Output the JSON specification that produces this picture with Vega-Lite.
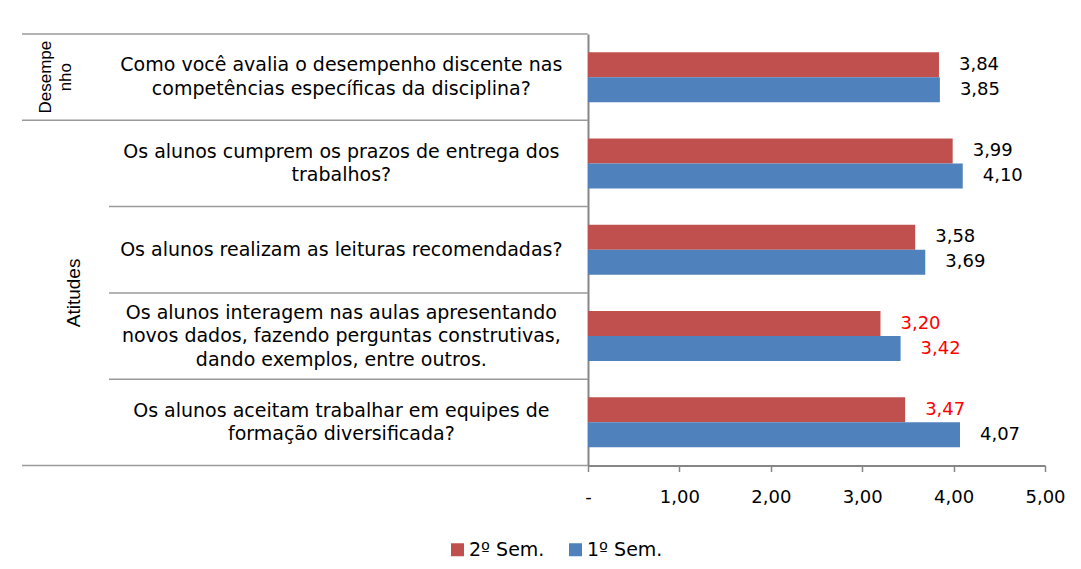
{
  "$schema": "https://vega.github.io/schema/vega-lite/v6.json",
  "padding": {"left": 21, "top": 33, "right": 0, "bottom": 0},
  "bounds": "flush",
  "spacing": 0,
  "config": {
    "view": {"stroke": null},
    "font": "DejaVu Sans",
    "locale": {"number": {"decimal": ",", "thousands": ".", "grouping": [3], "currency": ["R$ ", ""]}}
  },
  "datasets": {
    "notas": [
      {"grupo": "Desempenho", "pergunta": "Como você avalia o desempenho discente nas\ncompetências específicas da disciplina?", "semestre": "2º Sem.", "valor": 3.84},
      {"grupo": "Desempenho", "pergunta": "Como você avalia o desempenho discente nas\ncompetências específicas da disciplina?", "semestre": "1º Sem.", "valor": 3.85},
      {"grupo": "Atitudes", "pergunta": "Os alunos cumprem os prazos de entrega dos\ntrabalhos?", "semestre": "2º Sem.", "valor": 3.99},
      {"grupo": "Atitudes", "pergunta": "Os alunos cumprem os prazos de entrega dos\ntrabalhos?", "semestre": "1º Sem.", "valor": 4.10},
      {"grupo": "Atitudes", "pergunta": "Os alunos realizam as leituras recomendadas?", "semestre": "2º Sem.", "valor": 3.58},
      {"grupo": "Atitudes", "pergunta": "Os alunos realizam as leituras recomendadas?", "semestre": "1º Sem.", "valor": 3.69},
      {"grupo": "Atitudes", "pergunta": "Os alunos interagem nas aulas apresentando\nnovos dados, fazendo perguntas construtivas,\ndando exemplos, entre outros.", "semestre": "2º Sem.", "valor": 3.20},
      {"grupo": "Atitudes", "pergunta": "Os alunos interagem nas aulas apresentando\nnovos dados, fazendo perguntas construtivas,\ndando exemplos, entre outros.", "semestre": "1º Sem.", "valor": 3.42},
      {"grupo": "Atitudes", "pergunta": "Os alunos aceitam trabalhar em equipes de\nformação diversificada?", "semestre": "2º Sem.", "valor": 3.47},
      {"grupo": "Atitudes", "pergunta": "Os alunos aceitam trabalhar em equipes de\nformação diversificada?", "semestre": "1º Sem.", "valor": 4.07}
    ],
    "grupos": [
      {"grupo": "Desempenho", "rotulo": "Desempe\nnho", "pergunta": "Como você avalia o desempenho discente nas\ncompetências específicas da disciplina?"},
      {"grupo": "Atitudes", "rotulo": "Atitudes", "pergunta": "Os alunos interagem nas aulas apresentando\nnovos dados, fazendo perguntas construtivas,\ndando exemplos, entre outros."}
    ]
  },
  "resolve": {"scale": {"y": "shared"}},
  "hconcat": [
    {
      "width": 87,
      "height": 431.5,
      "layer": [
        {
          "data": {"name": "notas"},
          "transform": [
            {"filter": "datum.semestre == '1º Sem.'"},
            {"window": [{"op": "row_number", "as": "ordem"}], "groupby": ["grupo"]},
            {"filter": "datum.ordem == 1"}
          ],
          "mark": {"type": "rule", "color": "#9A9A9A", "strokeWidth": 1.5},
          "encoding": {
            "y": {"field": "pergunta", "type": "nominal", "bandPosition": 0, "axis": null,
              "sort": ["Como você avalia o desempenho discente nas\ncompetências específicas da disciplina?", "Os alunos cumprem os prazos de entrega dos\ntrabalhos?", "Os alunos realizam as leituras recomendadas?", "Os alunos interagem nas aulas apresentando\nnovos dados, fazendo perguntas construtivas,\ndando exemplos, entre outros.", "Os alunos aceitam trabalhar em equipes de\nformação diversificada?"],
              "scale": {"paddingInner": 0, "paddingOuter": 0}}
          }
        },
        {
          "data": {"name": "notas"},
          "transform": [
            {"filter": "datum.semestre == '1º Sem.' && indexof(datum.pergunta, 'aceitam') >= 0"}
          ],
          "mark": {"type": "rule", "color": "#9A9A9A", "strokeWidth": 1.5},
          "encoding": {
            "y": {"field": "pergunta", "type": "nominal", "bandPosition": 1, "axis": null,
              "sort": ["Como você avalia o desempenho discente nas\ncompetências específicas da disciplina?", "Os alunos cumprem os prazos de entrega dos\ntrabalhos?", "Os alunos realizam as leituras recomendadas?", "Os alunos interagem nas aulas apresentando\nnovos dados, fazendo perguntas construtivas,\ndando exemplos, entre outros.", "Os alunos aceitam trabalhar em equipes de\nformação diversificada?"]}
          }
        },
        {
          "data": {"name": "grupos"},
          "transform": [{"filter": "datum.grupo == 'Desempenho'"}],
          "mark": {"type": "text", "angle": 270, "align": "center", "baseline": "middle", "dy": -20, "lineBreak": "\n", "lineHeight": 20, "fontSize": 17, "font": "Liberation Sans", "color": "#000000"},
          "encoding": {
            "y": {"field": "pergunta", "type": "nominal", "bandPosition": 0.5, "axis": null,
              "sort": ["Como você avalia o desempenho discente nas\ncompetências específicas da disciplina?", "Os alunos cumprem os prazos de entrega dos\ntrabalhos?", "Os alunos realizam as leituras recomendadas?", "Os alunos interagem nas aulas apresentando\nnovos dados, fazendo perguntas construtivas,\ndando exemplos, entre outros.", "Os alunos aceitam trabalhar em equipes de\nformação diversificada?"]},
            "text": {"field": "rotulo", "type": "nominal"}
          }
        },
        {
          "data": {"name": "grupos"},
          "transform": [{"filter": "datum.grupo == 'Atitudes'"}],
          "mark": {"type": "text", "angle": 270, "align": "center", "baseline": "middle", "dy": 8.5, "fontSize": 19, "font": "Liberation Sans", "color": "#000000"},
          "encoding": {
            "y": {"field": "pergunta", "type": "nominal", "bandPosition": 0, "axis": null,
              "sort": ["Como você avalia o desempenho discente nas\ncompetências específicas da disciplina?", "Os alunos cumprem os prazos de entrega dos\ntrabalhos?", "Os alunos realizam as leituras recomendadas?", "Os alunos interagem nas aulas apresentando\nnovos dados, fazendo perguntas construtivas,\ndando exemplos, entre outros.", "Os alunos aceitam trabalhar em equipes de\nformação diversificada?"]},
            "text": {"field": "rotulo", "type": "nominal"}
          }
        }
      ]
    },
    {
      "width": 478.7,
      "height": 431.5,
      "data": {"name": "notas"},
      "transform": [{"filter": "datum.semestre == '1º Sem.'"}],
      "layer": [
        {
          "mark": {"type": "rule", "color": "#9A9A9A", "strokeWidth": 1.5},
          "encoding": {
            "y": {"field": "pergunta", "type": "nominal", "bandPosition": 0, "axis": null,
              "sort": ["Como você avalia o desempenho discente nas\ncompetências específicas da disciplina?", "Os alunos cumprem os prazos de entrega dos\ntrabalhos?", "Os alunos realizam as leituras recomendadas?", "Os alunos interagem nas aulas apresentando\nnovos dados, fazendo perguntas construtivas,\ndando exemplos, entre outros.", "Os alunos aceitam trabalhar em equipes de\nformação diversificada?"]}
          }
        },
        {
          "transform": [{"filter": "indexof(datum.pergunta, 'aceitam') >= 0"}],
          "mark": {"type": "rule", "color": "#9A9A9A", "strokeWidth": 1.5},
          "encoding": {
            "y": {"field": "pergunta", "type": "nominal", "bandPosition": 1, "axis": null,
              "sort": ["Como você avalia o desempenho discente nas\ncompetências específicas da disciplina?", "Os alunos cumprem os prazos de entrega dos\ntrabalhos?", "Os alunos realizam as leituras recomendadas?", "Os alunos interagem nas aulas apresentando\nnovos dados, fazendo perguntas construtivas,\ndando exemplos, entre outros.", "Os alunos aceitam trabalhar em equipes de\nformação diversificada?"]}
          }
        },
        {
          "transform": [{"filter": "length(split(datum.pergunta, '\\n')) == 1"}],
          "mark": {"type": "text", "align": "center", "baseline": "middle", "dx": -7, "lineBreak": "\n", "lineHeight": 23.5, "fontSize": 19, "color": "#000000"},
          "encoding": {
            "y": {"field": "pergunta", "type": "nominal", "axis": null,
              "sort": ["Como você avalia o desempenho discente nas\ncompetências específicas da disciplina?", "Os alunos cumprem os prazos de entrega dos\ntrabalhos?", "Os alunos realizam as leituras recomendadas?", "Os alunos interagem nas aulas apresentando\nnovos dados, fazendo perguntas construtivas,\ndando exemplos, entre outros.", "Os alunos aceitam trabalhar em equipes de\nformação diversificada?"]},
            "text": {"field": "pergunta", "type": "nominal"}
          }
        },
        {
          "transform": [{"filter": "length(split(datum.pergunta, '\\n')) == 2"}],
          "mark": {"type": "text", "align": "center", "baseline": "middle", "dx": -7, "dy": -11.75, "lineBreak": "\n", "lineHeight": 23.5, "fontSize": 19, "color": "#000000"},
          "encoding": {
            "y": {"field": "pergunta", "type": "nominal", "axis": null,
              "sort": ["Como você avalia o desempenho discente nas\ncompetências específicas da disciplina?", "Os alunos cumprem os prazos de entrega dos\ntrabalhos?", "Os alunos realizam as leituras recomendadas?", "Os alunos interagem nas aulas apresentando\nnovos dados, fazendo perguntas construtivas,\ndando exemplos, entre outros.", "Os alunos aceitam trabalhar em equipes de\nformação diversificada?"]},
            "text": {"field": "pergunta", "type": "nominal"}
          }
        },
        {
          "transform": [{"filter": "length(split(datum.pergunta, '\\n')) == 3"}],
          "mark": {"type": "text", "align": "center", "baseline": "middle", "dx": -7, "dy": -23.5, "lineBreak": "\n", "lineHeight": 23.5, "fontSize": 19, "color": "#000000"},
          "encoding": {
            "y": {"field": "pergunta", "type": "nominal", "axis": null,
              "sort": ["Como você avalia o desempenho discente nas\ncompetências específicas da disciplina?", "Os alunos cumprem os prazos de entrega dos\ntrabalhos?", "Os alunos realizam as leituras recomendadas?", "Os alunos interagem nas aulas apresentando\nnovos dados, fazendo perguntas construtivas,\ndando exemplos, entre outros.", "Os alunos aceitam trabalhar em equipes de\nformação diversificada?"]},
            "text": {"field": "pergunta", "type": "nominal"}
          }
        }
      ]
    },
    {
      "width": 457,
      "height": 431.5,
      "data": {"name": "notas"},
      "encoding": {
        "y": {"field": "pergunta", "type": "nominal",
          "sort": ["Como você avalia o desempenho discente nas\ncompetências específicas da disciplina?", "Os alunos cumprem os prazos de entrega dos\ntrabalhos?", "Os alunos realizam as leituras recomendadas?", "Os alunos interagem nas aulas apresentando\nnovos dados, fazendo perguntas construtivas,\ndando exemplos, entre outros.", "Os alunos aceitam trabalhar em equipes de\nformação diversificada?"],
          "axis": {"labels": false, "ticks": false, "title": null, "domainColor": "#868686", "domainWidth": 2}},
        "yOffset": {"field": "semestre", "type": "nominal", "sort": ["2º Sem.", "1º Sem."], "scale": {"paddingInner": 0, "paddingOuter": 0.726}},
        "x": {"field": "valor", "type": "quantitative", "scale": {"domain": [0, 5], "nice": false},
          "axis": {"values": [0, 1, 2, 3, 4, 5], "grid": false, "title": null, "labelFlush": false, "labelOverlap": false, "domainColor": "#868686", "domainWidth": 2, "tickColor": "#868686", "tickWidth": 1.5, "tickSize": 6, "labelFontSize": 18, "labelColor": "#000000", "labelPadding": 17, "labelExpr": "datum.value == 0 ? '-' : replace(format(datum.value, '.2f'), '.', ',')"}}
      },
      "layer": [
        {
          "mark": {"type": "bar"},
          "encoding": {
            "color": {"field": "semestre", "type": "nominal", "sort": ["2º Sem.", "1º Sem."],
              "scale": {"domain": ["2º Sem.", "1º Sem."], "range": ["#C0504D", "#4F81BD"]},
              "legend": {"orient": "none", "legendX": 426, "legendY": 506, "direction": "horizontal", "title": null, "symbolType": "square", "symbolSize": 169, "symbolStrokeWidth": 0, "labelFontSize": 19, "labelColor": "#000000", "columnPadding": 21, "labelOffset": 2}}
          }
        },
        {
          "mark": {"type": "text", "align": "left", "baseline": "middle", "dx": 20, "fontSize": 18},
          "encoding": {
            "text": {"field": "valor", "type": "quantitative", "format": ".2f"},
            "color": {"condition": {"test": "datum.valor < 3.5", "value": "#FF0000"}, "value": "#000000"}
          }
        }
      ]
    }
  ]
}
